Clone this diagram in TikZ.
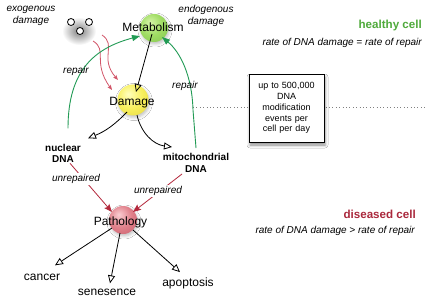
\documentclass[tikz,border=0pt]{standalone}
\usepackage{fontspec}
\setmainfont{Liberation Sans}
\usetikzlibrary{arrows.meta,shadows.blur,calc}
\definecolor{gA}{RGB}{215,245,170}
\definecolor{gB}{RGB}{160,220,100}
\definecolor{gC}{RGB}{125,195,75}
\definecolor{yA}{RGB}{255,255,190}
\definecolor{yB}{RGB}{248,240,95}
\definecolor{yC}{RGB}{225,210,55}
\definecolor{pA}{RGB}{250,205,210}
\definecolor{pB}{RGB}{225,130,140}
\definecolor{pC}{RGB}{195,85,100}
\definecolor{repgreen}{RGB}{34,155,85}
\definecolor{unrred}{RGB}{180,40,60}
\definecolor{wavyred}{RGB}{210,85,105}
\definecolor{healthy}{RGB}{80,170,60}
\definecolor{diseased}{RGB}{170,40,60}
\pgfdeclareradialshading{gball}{\pgfpoint{-8bp}{10bp}}{color(0bp)=(gA);color(20bp)=(gB);color(45bp)=(gC);color(70bp)=(gC)}
\pgfdeclareradialshading{yball}{\pgfpoint{-8bp}{10bp}}{color(0bp)=(yA);color(20bp)=(yB);color(45bp)=(yC);color(70bp)=(yC)}
\pgfdeclareradialshading{pball}{\pgfpoint{-8bp}{10bp}}{color(0bp)=(pA);color(20bp)=(pB);color(45bp)=(pC);color(70bp)=(pC)}
\begin{document}
\begin{tikzpicture}[x=1pt,y=-1pt,
  lab/.style={font=\fontsize{12}{14}\selectfont, inner sep=0},
  itl/.style={font=\fontsize{10}{12.3}\selectfont\itshape, inner sep=0, align=center},
  bld/.style={font=\fontsize{10}{11.7}\selectfont\bfseries, inner sep=0, align=center},
  ball/.style={circle, inner sep=0, minimum size=#1, blur shadow={shadow xshift=1pt, shadow yshift=-2pt, shadow blur radius=3pt, shadow opacity=25}},
  dot/.style={circle, draw, fill=white, line width=0.8pt, minimum size=7pt, inner sep=0},
  openarrow/.style={line width=0.8pt, -{Triangle[open, length=8pt, width=7pt]}},
  reparrow/.style={repgreen, line width=0.9pt, -{Triangle[length=8pt, width=6pt]}},
  unrarrow/.style={unrred, line width=0.8pt, -{Stealth[length=8pt, width=6.5pt, inset=1.5pt]}},
  wavy/.style={wavyred, line width=0.8pt, -{Stealth[length=5pt, width=4pt, inset=1pt]}},
  infobox/.style={draw, fill=white, line width=0.9pt, minimum width=75pt, minimum height=68pt, inner sep=2pt, align=center, text width=70pt, font=\fontsize{9}{10.8}\selectfont, blur shadow={shadow xshift=1pt, shadow yshift=-3pt, shadow blur radius=3pt, shadow opacity=45}}
]
\fill[white] (0,0) rectangle (430,299);
\useasboundingbox (0,0) rectangle (430,299);

% dotted line
\coordinate (dl) at (193,107);
\coordinate (dr) at (427,107);
\draw[gray, line width=0.7pt, dash pattern=on 0.8pt off 2.6pt] (dl) -- (dr);

% exogenous damage particles
\shade[inner color=black!50, outer color=white] (79,31) ellipse (17pt and 14pt);
\node[dot] (o1) at (71,22) {};
\node[dot] (o2) at (89,22) {};
\node[dot] (o3) at (80,31) {};

% balls
\node[ball=28pt, shading=gball] (metab) at (154,28) {};
\node[ball=31pt, shading=yball] (dam) at (133,100) {};
\node[ball=28pt, shading=pball] (pat) at (123,220) {};

% texts
\node[itl] (exo) at (31,16) {exogenous\\damage};
\node[itl] (endo) at (206,16) {endogenous\\damage};
\node[bld] (nuc) at (63,153.3) {nuclear\\DNA};
\node[bld] (mito) at (196,163) {mitochondrial\\DNA};
\node[lab, anchor=base] (cancer) at (42,280) {cancer};
\node[lab, anchor=base] (sen) at (107,295) {senesence};
\node[lab, anchor=base] (apo) at (188,286) {apoptosis};

\node[infobox] (box) at (286.5,108) {up to 500,000\\DNA\\modification\\events per\\cell per day};

\node[font=\fontsize{11.6}{14}\selectfont\bfseries, text=healthy, inner sep=0, anchor=base east] (hc) at (422,29) {healthy cell};
\node[font=\fontsize{10}{12}\selectfont\itshape, inner sep=0, anchor=base east] (hr) at (422,45.5) {rate of DNA damage = rate of repair};
\node[font=\fontsize{11.6}{14}\selectfont\bfseries, text=diseased, inner sep=0, anchor=base east] (dc) at (416,218) {diseased cell};
\node[font=\fontsize{10}{12}\selectfont\itshape, inner sep=0, anchor=base east] (dr2) at (415,233.5) {rate of DNA damage > rate of repair};

% wavy red arrows
\draw[wavy] ($(o2)+(4,19)$) .. controls (108,50) and (92,62) .. ($(dam)+(-21,-10)$);
\draw[wavy] ($(o2)+(13,13)$) .. controls (117,45) and (99,58) .. ($(dam)+(-15,-20)$);

% repair arrows
\draw[reparrow] ($(nuc)+(5,-25)$) .. controls (68,70) and (95,48) .. ($(metab)+(-14,8)$);
\draw[reparrow] ($(mito)+(0,-15)$) -- (193,110) .. controls (192,75) and (180,52) .. ($(metab)+(8,9)$);
\node[itl] (rep1) at (76,71) {repair};
\node[itl] (rep2) at (185,86) {repair};

% metabolism -> damage
\draw[openarrow] ($(metab)+(-2,6)$) -- ($(dam)+(3,-8)$);
% damage -> DNA
\draw[openarrow] ($(dam)+(-6,12)$) to[bend left=12] ($(nuc)+(25,-15)$);
\draw[openarrow] ($(dam)+(4,15)$) to[bend right=35] ($(mito)+(-24,-16)$);

% unrepaired
\draw[unrarrow] ($(nuc)+(7,10)$) -- ($(pat)+(-11,-8)$);
\draw[unrarrow] ($(mito)+(-14,11)$) -- ($(pat)+(10,-8)$);
\node[itl, fill=white, inner sep=1pt] (u1) at (76,179) {unrepaired};
\node[itl, fill=white, inner sep=1pt] (u2) at (158,191) {unrepaired};

% pathology outcomes
\draw[openarrow] ($(pat)+(-11,8)$) -- ($(cancer.north)+(13,-8)$);
\draw[openarrow] ($(pat)+(-3,13)$) -- ($(sen.north)+(3,-5)$);
\draw[openarrow] ($(pat)+(10,10)$) -- ($(apo.north)+(-8,-5)$);

% ball texts
\node[lab, anchor=base] (metabt) at (153,32) {Metabolism};
\node[lab, anchor=base] (damt) at (132,106) {Damage};
\node[lab, anchor=base] (patt) at (120.5,225) {Pathology};
\end{tikzpicture}
\end{document}
